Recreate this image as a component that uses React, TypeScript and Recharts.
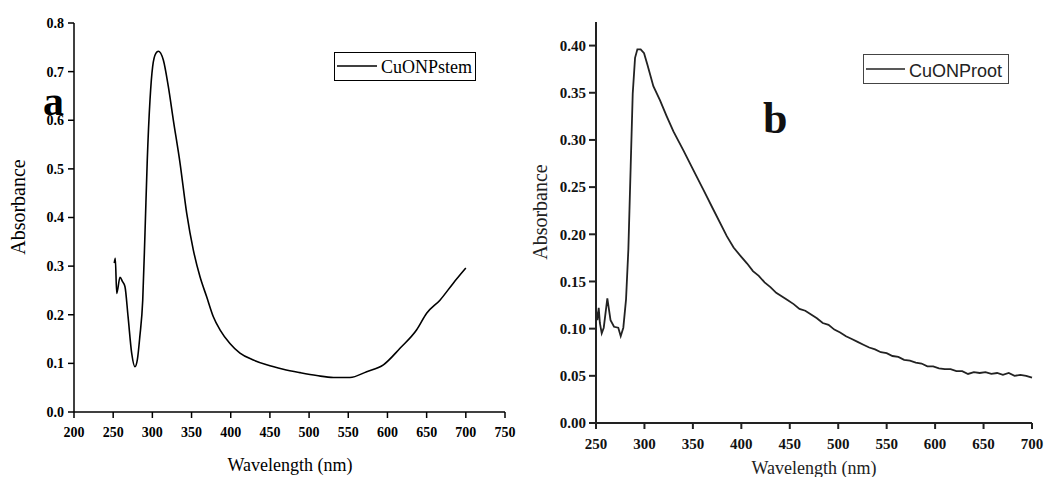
import React from 'react';
import { LineChart, Line, XAxis, YAxis } from 'recharts';

const stemWavelength = [251.4, 252.7, 254.5, 258.7, 262, 265, 269, 273.6, 277.8, 280.8, 284, 287.7, 290.6, 293.5, 297, 300.4, 304.6, 307.6, 314, 320.4, 326.7, 335.3, 343.8, 352.3, 360.8, 369.3, 377.8, 386.3, 399, 411.8, 428.8, 445.9, 467, 488.4, 509.7, 531, 552.2, 573.5, 594.8, 616, 637.3, 650, 667, 684, 700];
const stemAbsorbance = [0.306, 0.316, 0.244, 0.277, 0.268, 0.258, 0.196, 0.121, 0.093, 0.107, 0.155, 0.23, 0.368, 0.518, 0.642, 0.711, 0.738, 0.742, 0.724, 0.669, 0.601, 0.512, 0.409, 0.333, 0.278, 0.237, 0.196, 0.169, 0.141, 0.121, 0.107, 0.097, 0.088, 0.081, 0.075, 0.071, 0.071, 0.083, 0.097, 0.131, 0.169, 0.203, 0.23, 0.265, 0.296];

const rootWavelength = [250, 251.4, 252.8, 254, 255.9, 258, 261.7, 265, 268.6, 273, 275.5, 278.2, 281, 283.4, 285.8, 287.9, 290.3, 292.7, 296.1, 299.6, 303, 309.2, 316.1, 323, 329.9, 340.2, 350.5, 360.9, 371.2, 385, 392, 400, 406, 412, 418, 424, 430, 436, 442, 448, 454, 460, 466, 472, 478, 484, 490, 496, 502, 508, 514, 520, 526, 532, 538, 544, 550, 556, 562, 568, 574, 580, 586, 592, 598, 604, 610, 616, 622, 628, 634, 640, 646, 652, 658, 664, 670, 676, 682, 688, 694, 700];
const rootAbsorbance = [0.12, 0.109, 0.122, 0.106, 0.095, 0.101, 0.132, 0.109, 0.102, 0.101, 0.092, 0.101, 0.131, 0.184, 0.272, 0.349, 0.387, 0.396, 0.396, 0.392, 0.38, 0.357, 0.342, 0.325, 0.309, 0.289, 0.268, 0.247, 0.226, 0.198, 0.186, 0.176, 0.169, 0.161, 0.156, 0.149, 0.144, 0.138, 0.134, 0.13, 0.126, 0.121, 0.119, 0.115, 0.111, 0.106, 0.104, 0.099, 0.096, 0.092, 0.089, 0.086, 0.083, 0.08, 0.078, 0.075, 0.074, 0.071, 0.07, 0.067, 0.066, 0.064, 0.063, 0.06, 0.06, 0.058, 0.057, 0.057, 0.055, 0.055, 0.052, 0.054, 0.053, 0.054, 0.052, 0.053, 0.051, 0.053, 0.05, 0.051, 0.05, 0.048];

const stemXTicks = [200, 250, 300, 350, 400, 450, 500, 550, 600, 650, 700, 750];
const stemYTicks = [0, 0.1, 0.2, 0.3, 0.4, 0.5, 0.6, 0.7, 0.8];
const rootXTicks = [250, 300, 350, 400, 450, 500, 550, 600, 650, 700];
const rootYTicks = [0, 0.05, 0.1, 0.15, 0.2, 0.25, 0.3, 0.35, 0.4];

const stemData = stemWavelength.map((wl, i) => ({ wl, a: stemAbsorbance[i] }));
const rootData = rootWavelength.map((wl, i) => ({ wl, a: rootAbsorbance[i] }));

const serif = '"Liberation Serif", "Times New Roman", serif';
const sans = '"Liberation Sans", Arial, sans-serif';

export default function App() {
  const tickStyleL = { fontFamily: serif, fontWeight: 700, fontSize: 14, fill: '#000' };
  const tickStyleR = { fontFamily: serif, fontWeight: 700, fontSize: 15, fill: '#111' };
  return (
    <div style={{ position: 'fixed', left: 0, top: 0, width: 1046, height: 477, background: '#fff', overflow: 'hidden' }}>
      <div style={{ position: 'absolute', left: 0, top: 0 }}>
        <LineChart width={520} height={477} data={stemData} margin={{ top: 23, right: 15, bottom: 35, left: 0 }}>
          <XAxis dataKey="wl" type="number" domain={[200, 750]} ticks={stemXTicks} interval={0} height={30}
            tickSize={6} tickMargin={9} tick={tickStyleL}
            axisLine={{ stroke: '#000', strokeWidth: 1.5 }} tickLine={{ stroke: '#000', strokeWidth: 1.5 }} />
          <XAxis xAxisId="top" orientation="top" type="number" domain={[200, 750]} height={0} tick={false} tickLine={false}
            axisLine={{ stroke: '#000', strokeWidth: 1.5 }} />
          <YAxis type="number" domain={[0, 0.8]} ticks={stemYTicks} interval={0} width={74}
            tickSize={6} tickMargin={4} tick={tickStyleL} tickFormatter={(v: number) => v.toFixed(1)}
            axisLine={{ stroke: '#000', strokeWidth: 1.5 }} tickLine={{ stroke: '#000', strokeWidth: 1.5 }} />
          <YAxis yAxisId="right" orientation="right" type="number" domain={[0, 0.8]} width={0} tick={false} tickLine={false}
            axisLine={{ stroke: '#000', strokeWidth: 1.5 }} />
          <Line dataKey="a" type="monotone" stroke="#000" strokeWidth={1.6} dot={false} isAnimationActive={false} />
        </LineChart>
      </div>
      <div style={{ position: 'absolute', left: 520, top: 0 }}>
        <LineChart width={526} height={477} data={rootData} margin={{ top: 22, right: 14, bottom: 24, left: 0 }}>
          <XAxis dataKey="wl" type="number" domain={[250, 700]} ticks={rootXTicks} interval={0} height={30}
            tickSize={6} tickMargin={9} tick={tickStyleR}
            axisLine={{ stroke: '#222', strokeWidth: 2 }} tickLine={{ stroke: '#222', strokeWidth: 2 }} />
          <XAxis xAxisId="top" orientation="top" type="number" domain={[250, 700]} height={0} tick={false} tickLine={false}
            axisLine={{ stroke: '#222', strokeWidth: 2 }} />
          <YAxis type="number" domain={[0, 0.425]} ticks={rootYTicks} interval={0} width={76}
            tickSize={7} tickMargin={3} tick={tickStyleR} tickFormatter={(v: number) => v.toFixed(2)}
            axisLine={{ stroke: '#222', strokeWidth: 2 }} tickLine={{ stroke: '#222', strokeWidth: 2 }} />
          <YAxis yAxisId="right" orientation="right" type="number" domain={[0, 0.425]} width={0} tick={false} tickLine={false}
            axisLine={{ stroke: '#222', strokeWidth: 2 }} />
          <Line dataKey="a" type="linear" stroke="#222" strokeWidth={1.8} dot={false} isAnimationActive={false} />
        </LineChart>
      </div>
      <svg width={1046} height={477} style={{ position: 'absolute', left: 0, top: 0, pointerEvents: 'none' }}>
        <text x={43} y={115} fontFamily={serif} fontWeight={700} fontSize={42} fill="#000">a</text>
        <text x={763} y={133} fontFamily={serif} fontWeight={700} fontSize={44} fill="#111">b</text>
        <text x={25} y={207} transform="rotate(-90 25 207)" textAnchor="middle" fontFamily={serif} fontSize={20} fill="#000">Absorbance</text>
        <text x={547} y={212} transform="rotate(-90 547 212)" textAnchor="middle" fontFamily={serif} fontSize={20} fill="#222">Absorbance</text>
        <text x={290} y={471} textAnchor="middle" fontFamily={serif} fontSize={18} fill="#000">Wavelength (nm)</text>
        <text x={814} y={474} textAnchor="middle" fontFamily={serif} fontSize={18} fill="#222">Wavelength (nm)</text>
        <rect x={334.5} y={52.5} width={141} height={28} fill="#fff" stroke="#000" strokeWidth={1} />
        <line x1={337} x2={377} y1={66} y2={66} stroke="#000" strokeWidth={1.5} />
        <text x={381} y={73} fontFamily={serif} fontSize={18} fill="#000">CuONPstem</text>
        <rect x={863.5} y={54.5} width={145} height={29} fill="#fff" stroke="#444" strokeWidth={1} />
        <line x1={866} x2={905} y1={69} y2={69} stroke="#222" strokeWidth={1.5} />
        <text x={909} y={76.5} fontFamily={sans} fontSize={18} fill="#222">CuONProot</text>
      </svg>
    </div>
  );
}
